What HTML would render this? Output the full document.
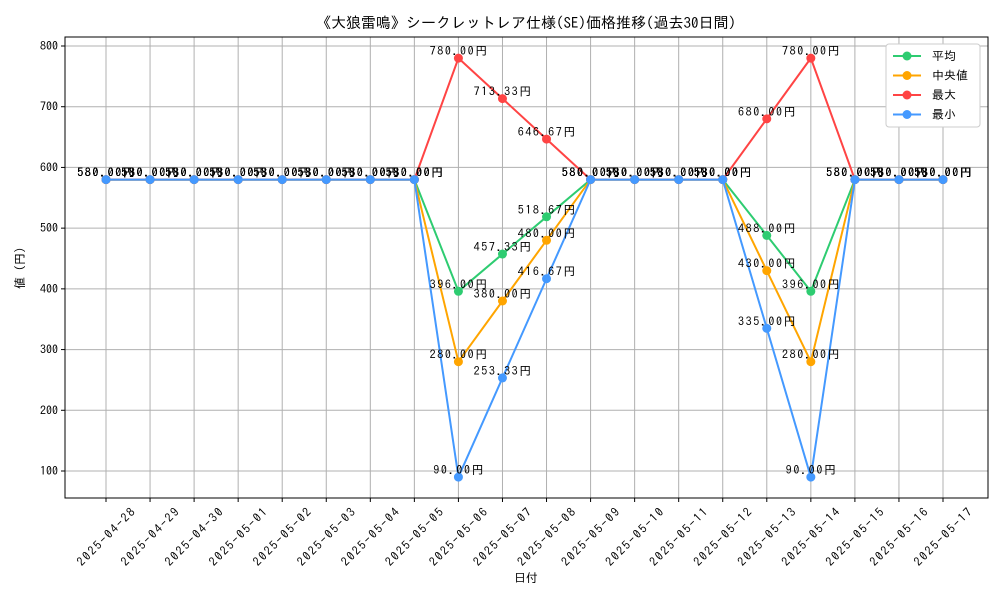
<!DOCTYPE html>
<html><head><meta charset="utf-8">
<style>
body{margin:0;background:#fff;}
svg text{font-family:"IPAGothic","Liberation Sans",monospace;fill:#000;}
</style></head>
<body>
<svg id="chart" width="1000" height="600" xmlns="http://www.w3.org/2000/svg">
<text x="526" y="28" font-size="15" text-anchor="middle">《大狼雷鳴》シークレットレア仕様(SE)価格推移(過去30日間)</text>
<g id="grid"></g>
<rect x="65" y="37" width="923" height="461" fill="none" stroke="#000" stroke-width="1"/>
<g id="axes"></g>
<g id="series"></g>
<g id="labels"></g>
<text x="526" y="582" font-size="12" text-anchor="middle">日付</text>
<text x="24" y="268" font-size="12" text-anchor="middle" transform="rotate(-90 24 268)">値 (円)</text>
<g id="legend"></g>
</svg>
<script>
const dates=["2025-04-28","2025-04-29","2025-04-30","2025-05-01","2025-05-02","2025-05-03","2025-05-04","2025-05-05","2025-05-06","2025-05-07","2025-05-08","2025-05-09","2025-05-10","2025-05-11","2025-05-12","2025-05-13","2025-05-14","2025-05-15","2025-05-16","2025-05-17"];
const avgVals=[580,580,580,580,580,580,580,580,396,457.33,518.67,580,580,580,580,488,396,580,580,580];
const medVals=[580,580,580,580,580,580,580,580,280,380,480,580,580,580,580,430,280,580,580,580];
const maxVals=[580,580,580,580,580,580,580,580,780,713.33,646.67,580,580,580,580,680,780,580,580,580];
const minVals=[580,580,580,580,580,580,580,580,90,253.33,416.67,580,580,580,580,335,90,580,580,580];
const yTicks=[100,200,300,400,500,600,700,800];
const seriesNames=["平均","中央値","最大","最小"];
const colors=["#2ecc71","#ffa500","#ff4444","#4499ff"];
const NS="http://www.w3.org/2000/svg";
function xs(i){return 106+i*(943-106)/(dates.length-1);}
function ys(v){return 471-(v-100)*(425/700);}
function mk(tag,attrs,parent){const e=document.createElementNS(NS,tag);for(const k in attrs)e.setAttribute(k,attrs[k]);parent.appendChild(e);return e;}
const grid=document.getElementById('grid'),axes=document.getElementById('axes');
dates.forEach((d,i)=>{
 const x=xs(i);
 const l=mk('line',{x1:x,x2:x,y1:37,y2:498,stroke:'#b0b0b0','stroke-width':1},grid);
 
 
 mk('line',{x1:x,x2:x,y1:498,y2:502,stroke:'#000'},axes);
 const cy=541;
 const t=mk('text',{x:x,y:cy,'font-size':12,'text-anchor':'middle',textLength:76,lengthAdjust:'spacing',transform:`rotate(-45 ${x} ${cy-4})`},axes);
 t.textContent=d;
 
 
});
yTicks.forEach(v=>{
 const y=ys(v);
 const l=mk('line',{x1:65,x2:988,y1:y,y2:y,stroke:'#b0b0b0','stroke-width':1},grid);
 
 
 mk('line',{x1:61,x2:65,y1:y,y2:y,stroke:'#000'},axes);
 const t=mk('text',{x:58,y:y+4,'font-size':12,'text-anchor':'end'},axes);
 t.textContent=v;
 
 
});
const all=[avgVals,medVals,maxVals,minVals];
const sg=document.getElementById('series'),lg=document.getElementById('labels');
all.forEach((vals,s)=>{
 const g=mk('g',{},sg);
 
 
 const p=mk('polyline',{points:vals.map((v,i)=>xs(i)+','+ys(v)).join(' '),fill:'none',stroke:colors[s],'stroke-width':2},g);
 
 
 vals.forEach((v,i)=>{
  const c=mk('circle',{cx:xs(i),cy:ys(v),r:4.5,fill:colors[s]},g);
  
  
  const txt=v.toFixed(2)+'円';
  const t=mk('text',{x:xs(i),y:ys(v)-3,'font-size':12,'text-anchor':'middle',textLength:(txt.length+1)*7.2,lengthAdjust:'spacing'},lg);
  t.textContent=txt;
  
  
 });
});
const leg=document.getElementById('legend');
const lb=mk('rect',{x:886,y:44,width:94,height:83,fill:'#fff',stroke:'#ccc',rx:3},leg);


seriesNames.forEach((n,s)=>{
 const y=56+s*19.5;
 const g=mk('g',{},leg);
 
 
 mk('line',{x1:893,x2:921,y1:y,y2:y,stroke:colors[s],'stroke-width':2},g);
 mk('circle',{cx:907,cy:y,r:4.5,fill:colors[s]},g);
 const t=mk('text',{x:932,y:y+4,'font-size':12},g);
 t.textContent=n;
});
</script>
</body></html>
